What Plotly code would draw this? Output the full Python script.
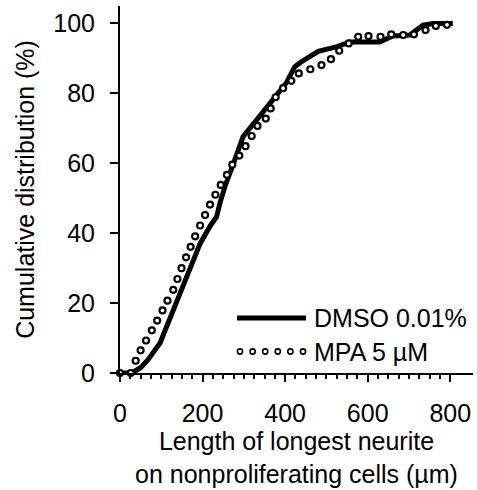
# -*- coding: utf-8 -*-
"""
Cumulative distribution of the longest neurite length on nonproliferating
cells: DMSO 0.01% (solid line) versus MPA 5 uM (open circles).
"""

import plotly.graph_objects as go


# =============================================================================
# Data
# =============================================================================
DMSO_X = [0, 28, 50, 68, 97, 113, 127, 145, 161, 179, 194, 218, 234, 242,
          254, 278, 298, 331, 371, 403, 423, 439, 480, 524, 557, 580, 629,
          661, 702, 734, 758, 806]
DMSO_Y = [0, 0, 1.5, 3.8, 8.6, 13.3, 18.0, 23.0, 27.6, 32.4, 37.0, 42.0,
          44.7, 48.6, 53.3, 61.0, 67.6, 72.4, 78.0, 83.0, 87.6, 89.0, 92.0,
          93.3, 94.7, 94.7, 94.7, 96.4, 96.7, 99.5, 100.0, 100.0]

MPA_X = [0, 26, 38, 50, 63, 77, 90, 103, 115, 129, 139, 149, 160, 171, 182,
         194, 206, 218, 231, 244, 259, 272, 289, 304, 319, 333, 353, 365,
         377, 395, 415, 433, 461, 488, 511, 531, 554, 577, 602, 631, 657,
         686, 712, 740, 765, 792]
MPA_Y = [0, 0, 3.5, 6.5, 9.3, 12.2, 15.0, 17.9, 20.7, 23.8, 26.9, 30.0,
         33.1, 36.1, 39.1, 42.2, 45.2, 48.2, 51.0, 53.8, 56.7, 59.6, 62.2,
         64.9, 67.8, 70.7, 72.8, 75.7, 78.9, 81.5, 83.6, 85.7, 86.9, 88.1,
         89.8, 92.2, 94.3, 96.2, 96.4, 96.2, 96.9, 96.7, 96.9, 98.1, 99.3,
         99.6]

SERIES_NAMES = ["DMSO 0.01%", "MPA 5 µM"]

X_MAJOR_TICKS = [0, 100, 200, 300, 400, 500, 600, 700, 800]
X_TICK_LABELS = ["0", "", "200", "", "400", "", "600", "", "800"]
X_MINOR_TICKS = [v * 25 for v in range(33)]
Y_TICKS = [0, 20, 40, 60, 80, 100]

X_TITLE = "Length of longest neurite<br>on nonproliferating cells (µm)"
Y_TITLE = "Cumulative distribution (%)"

# =============================================================================
# Style
# =============================================================================
FONT = "Arial, 'Liberation Sans', sans-serif"
FS = 25
W, H = 477, 490
M_L, M_R, M_T, M_B = 120, 4, 6, 117
PLOT_W = W - M_L - M_R
PLOT_H = H - M_T - M_B


def px_to_paper(px, py):
    """Pixel position in the page -> paper coordinates."""
    return (px - M_L) / PLOT_W, (H - M_B - py) / PLOT_H


fig = go.Figure()

fig.add_trace(go.Scatter(
    x=DMSO_X, y=DMSO_Y, mode="lines", name=SERIES_NAMES[0],
    line=dict(color="black", width=5), cliponaxis=False, showlegend=False,
))
fig.add_trace(go.Scatter(
    x=MPA_X, y=MPA_Y, mode="markers", name=SERIES_NAMES[1],
    marker=dict(symbol="circle", size=6, color="white",
                line=dict(color="black", width=2.2)),
    cliponaxis=False, showlegend=False,
))

# ---- hand-drawn legend (long line sample and a row of circles) -------------
shapes = []
annotations = []
x0, y0 = px_to_paper(237, 318)
x1, _ = px_to_paper(306, 318)
shapes.append(dict(type="line", xref="paper", yref="paper", x0=x0, x1=x1,
                   y0=y0, y1=y0, line=dict(color="black", width=5)))
for i in range(6):
    cx, cy = px_to_paper(240 + i * 12.6, 351.5)
    r = 2.6
    rx, ry = r / PLOT_W, r / PLOT_H
    shapes.append(dict(type="circle", xref="paper", yref="paper",
                       x0=cx - rx, x1=cx + rx, y0=cy - ry, y1=cy + ry,
                       line=dict(color="black", width=1.6), fillcolor="white"))
for name, py in zip(SERIES_NAMES, [318, 351.5]):
    tx, ty = px_to_paper(312, py)
    annotations.append(dict(text=name, xref="paper", yref="paper", x=tx, y=ty,
                            xanchor="left", yanchor="middle", showarrow=False,
                            font=dict(family=FONT, size=FS, color="black")))

axis_common = dict(
    showgrid=False, zeroline=False, showline=True, linecolor="black",
    linewidth=2, ticks="outside", tickcolor="black", tickwidth=1.5,
    tickfont=dict(family=FONT, size=FS, color="black"),
)

fig.update_layout(
    width=W, height=H,
    margin=dict(l=M_L, r=M_R, t=M_T, b=M_B),
    paper_bgcolor="white", plot_bgcolor="white",
    showlegend=False,
    shapes=shapes, annotations=annotations,
    xaxis=dict(
        range=[0, 855], tickmode="array", tickvals=X_MAJOR_TICKS,
        ticktext=X_TICK_LABELS, ticklen=7, ticklabelstandoff=10,
        minor=dict(tickmode="array", tickvals=X_MINOR_TICKS, ticks="outside",
                   ticklen=4, tickcolor="black", tickwidth=1.5),
        title=dict(text=X_TITLE, standoff=6,
                   font=dict(family=FONT, size=FS, color="black")),
        **axis_common,
    ),
    yaxis=dict(
        range=[0, 105], tickmode="array", tickvals=Y_TICKS, ticklen=8,
        ticklabelstandoff=10,
        title=dict(text=Y_TITLE, standoff=12,
                   font=dict(family=FONT, size=FS, color="black")),
        **axis_common,
    ),
)

# the page is shot at exactly the figure size: drop the default body margin
fig.write_html(
    "out.html",
    config={"displayModeBar": False},
    post_script="document.body.style.margin='0';",
)
